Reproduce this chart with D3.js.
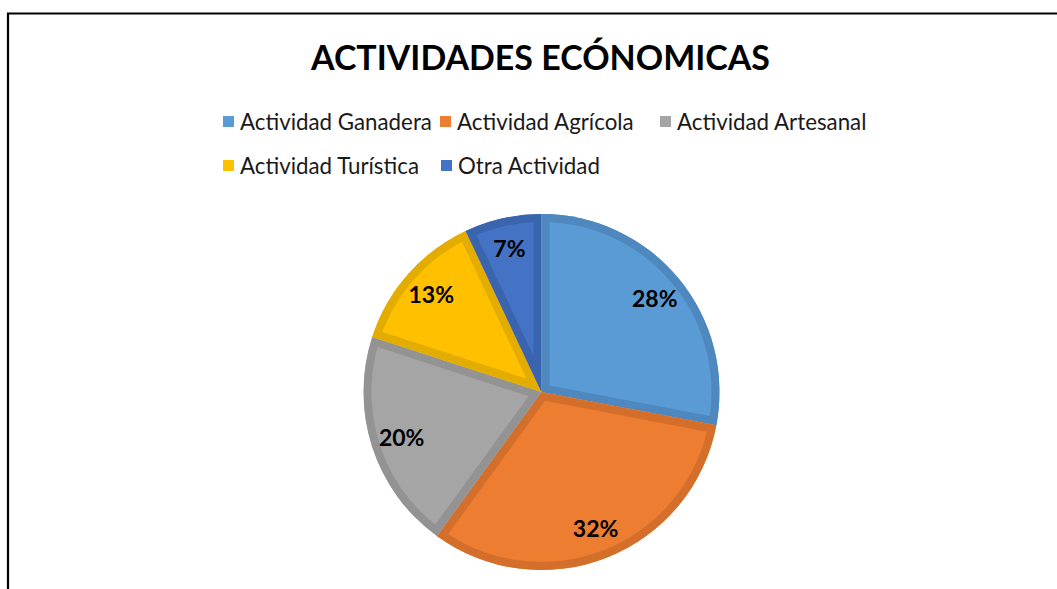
<!DOCTYPE html>
<html><head><meta charset="utf-8">
<script src="https://cdn.jsdelivr.net/npm/d3@7"></script>
<style>html,body{margin:0;padding:0;background:#fff;overflow:hidden}</style>
</head><body>
<svg id="c" width="1057" height="589"></svg>
<script>
const categories = ["Actividad Ganadera","Actividad Agrícola","Actividad Artesanal","Actividad Turística","Otra Actividad"];
const values = [28, 32, 20, 13, 7];
const fills = ["#5B9BD5","#ED7D31","#A5A5A5","#FFC000","#4472C4"];
const borders = ["#4E88BE","#D46F2B","#939393","#E3AC00","#3B64AF"];
const title = "ACTIVIDADES ECÓNOMICAS";

const svg = d3.select("#c");
const W = 1057, H = 589;
const font = "Lato, 'Open Sans', sans-serif";

// frame
svg.append("path").attr("d", `M8,${H} L8,13.5 L${W},13.5`).attr("fill","none").attr("stroke","#000").attr("stroke-width",2.2);

// title
const t = svg.append("text").attr("x",540.5).attr("y",70).attr("text-anchor","middle")
  .attr("font-family",font).attr("font-weight","bold").attr("font-size",36).attr("fill","#000").text(title);
const tw = t.node().getComputedTextLength();
t.attr("font-size", 36*459/tw);

// legend
const legendRows = [[0,1,2],[3,4]];
const legendX = [[223,440,660],[223,441]];
const legendY = [122,166];
const lg = svg.append("g");
let fs = 20;
const probe = lg.append("text").attr("font-family",font).attr("font-size",20).text(categories[0]);
fs = 20*192/probe.node().getComputedTextLength();
probe.remove();
legendRows.forEach((row,ri)=>{
  row.forEach((ci,j)=>{
    const x = legendX[ri][j];
    lg.append("rect").attr("x",x).attr("y",legendY[ri]-6).attr("width",11).attr("height",11).attr("fill",fills[ci]);
    lg.append("text").attr("x",x+17).attr("y",legendY[ri]).attr("dy","0.35em")
      .attr("font-family",font).attr("font-size",fs).attr("fill","#1a1a1a").text(categories[ci]);
  });
});

// pie
const cx = 541.5, cy = 392, R = 178;
const pie = d3.pie().sort(null).value(d=>d)(values);
const arc = d3.arc().innerRadius(0).outerRadius(R);
const g = svg.append("g").attr("transform",`translate(${cx},${cy})`);
const defs = svg.append("defs");
pie.forEach((p,i)=>{
  defs.append("clipPath").attr("id","cl"+i).append("path").attr("d",arc(p));
  g.append("path").attr("d",arc(p)).attr("fill",fills[i]);
  g.append("path").attr("d",arc(p)).attr("fill","none").attr("stroke",borders[i])
    .attr("stroke-width",16).attr("stroke-linejoin","miter").attr("clip-path",`url(#cl${i})`);
});
const labelArc = d3.arc().innerRadius(147).outerRadius(147);
pie.forEach((p,i)=>{
  const [x,y] = labelArc.centroid(p);
  g.append("text").attr("x",x).attr("y",y).attr("text-anchor","middle").attr("dy","0.36em")
    .attr("font-family",font).attr("font-weight","bold").attr("font-size",23).attr("fill","#000")
    .text(values[i]+"%");
});
</script>
</body></html>
